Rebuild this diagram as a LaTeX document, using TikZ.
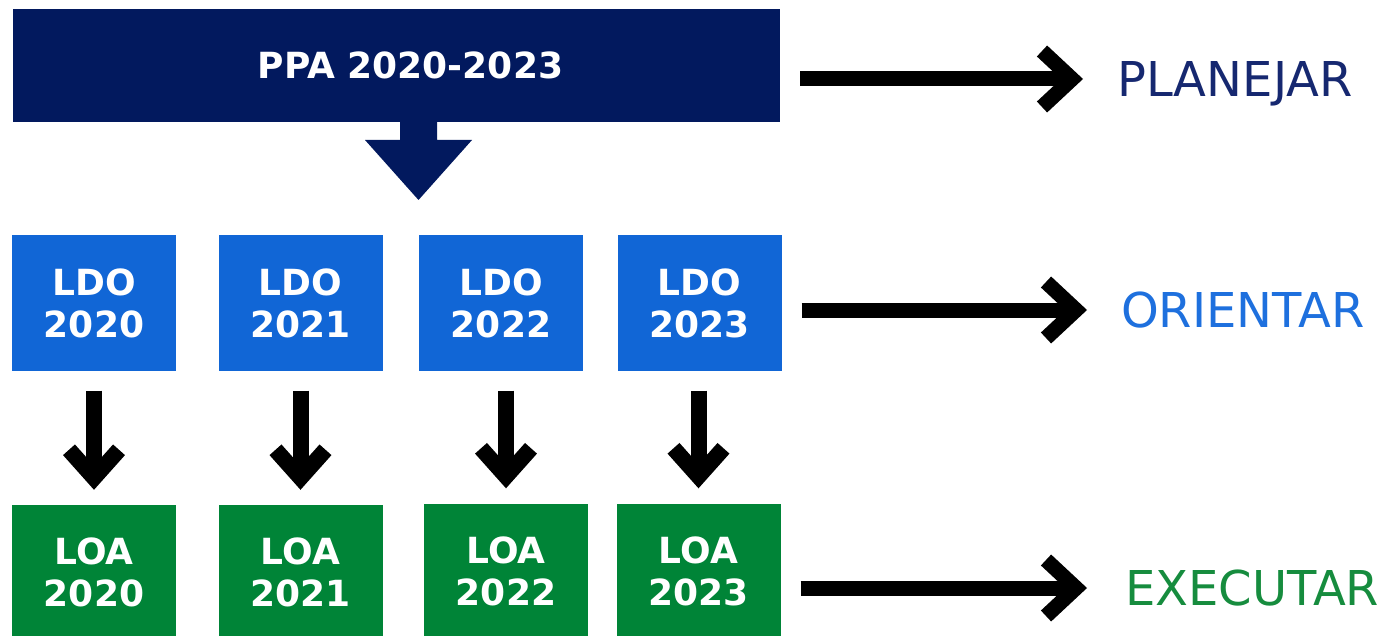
\documentclass[tikz,border=0pt]{standalone}
\usepackage{fontspec}
\setmainfont{DejaVu Sans}
\usetikzlibrary{arrows.meta}
\definecolor{ppanavy}{RGB}{2,25,94}
\definecolor{ldoblue}{RGB}{17,102,214}
\definecolor{loagreen}{RGB}{0,132,55}
\definecolor{lblnavy}{RGB}{22,40,112}
\definecolor{lblblue}{RGB}{30,112,222}
\definecolor{lblgreen}{RGB}{22,140,62}
\tikzstyle{ppa}=[fill=ppanavy,text=white,font=\bfseries\fontsize{36}{42}\selectfont,minimum width=767pt,minimum height=113pt,inner sep=0pt]
\tikzstyle{ldo}=[fill=ldoblue,text=white,font=\bfseries\fontsize{36}{42}\selectfont,align=center,minimum width=164pt,minimum height=135pt,inner sep=0pt]
\tikzstyle{loa}=[ldo,fill=loagreen]
\tikzstyle{lbl}=[anchor=west,inner sep=0pt,text height=35pt,text depth=0pt,font=\fontsize{48}{48}\selectfont]
\tikzstyle{rarrow}=[line width=15pt,-{Straight Barb[length=30pt,width=56pt,sharp]},shorten <=20pt,shorten >=34pt]
\tikzstyle{darrow}=[line width=16pt,-{Straight Barb[length=28pt,width=50pt,sharp]},shorten <=20pt,shorten >=15pt]

\begin{document}
\begin{tikzpicture}[x=1pt,y=-1pt]
\useasboundingbox (0,0) rectangle (1383,636);
\node[ppa] (ppa) at (396.5,65.5) {\hspace*{28pt}PPA 2020-2023};
\coordinate (split) at (418.5,122);
\fill[ppanavy] (split) ++(-18.5,-1) -- ++(37,0) -- ++(0,19) -- ++(35,0) -- ++(-53.5,60) -- ++(-53.5,-60) -- ++(35,0) -- cycle;
\node[ldo] (ldo1) at (94,303) {LDO\\2020};
\node[ldo] (ldo2) at (300.5,303) {LDO\\2021};
\node[ldo] (ldo3) at (501,303) {LDO\\2022};
\node[ldo] (ldo4) at (699.5,303) {LDO\\2023};
\node[loa] (loa1) at (94,572.5) {LOA\\2020};
\node[loa] (loa2) at (300.5,572.5) {LOA\\2021};
\node[loa] (loa3) at (506,571) {LOA\\2022};
\node[loa] (loa4) at (698.5,571) {LOA\\2023};
\node[lbl,text=lblnavy] (planejar) at (1117,79) {PLANEJAR};
\node[lbl,text=lblblue] (orientar) at (1121,310) {ORIENTAR};
\node[lbl,text=lblgreen] (executar) at (1125,588) {EXECUTAR};
% setas
\foreach \i in {1,...,4}
  \draw[darrow] (loa\i.north |- ldo\i.south) -- (loa\i.north);
\draw[rarrow] (ppa.east |- planejar.west) -- (planejar.west);
\draw[rarrow] (ldo4.east |- orientar.west) -- (orientar.west);
\draw[rarrow] (loa4.east |- executar.west) -- ([xshift=-4pt]executar.west);
\end{tikzpicture}
\end{document}
